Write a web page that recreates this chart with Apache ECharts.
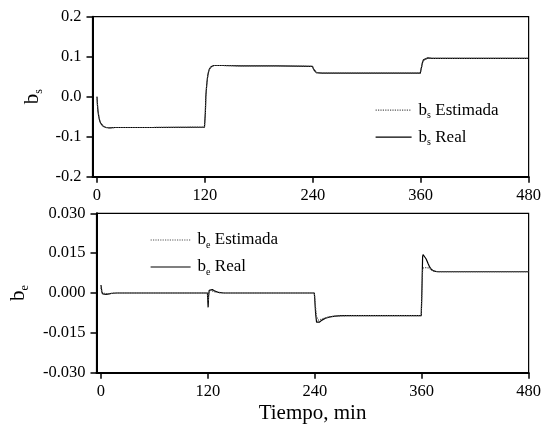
<!DOCTYPE html>
<html>
<head>
<meta charset="utf-8">
<script src="https://cdn.jsdelivr.net/npm/echarts@6/dist/echarts.min.js"></script>
<style>html,body{margin:0;padding:0;background:#fff}#c{width:544px;height:425px}</style>
</head>
<body>
<div id="c"></div>
<script>
// ---- Data ----
const xTicks = [0, 120, 240, 360, 480];

// Top panel: b_s
const tBsReal = [0, 0.5, 1, 2, 3, 4, 5, 7, 10, 14, 20, 60, 119.5, 120, 120.5, 121, 122, 123, 124, 125, 127, 130, 140, 160, 200, 239.5, 240, 241, 242, 244, 250, 300, 359.5, 360, 361, 362, 363, 365, 368, 372, 400, 480];
const bsReal  = [0, -0.02, -0.035, -0.05, -0.06, -0.066, -0.07, -0.074, -0.077, -0.078, -0.077, -0.077, -0.076, -0.076, -0.04, 0.0, 0.03, 0.05, 0.062, 0.069, 0.075, 0.078, 0.078, 0.077, 0.077, 0.076, 0.076, 0.068, 0.063, 0.060, 0.059, 0.059, 0.059, 0.059, 0.075, 0.086, 0.092, 0.096, 0.097, 0.096, 0.096, 0.096];
const tBsEst  = [0, 0.5, 1, 2, 3, 4, 5, 7, 10, 14, 20, 60, 119.5, 120, 120.5, 121, 122, 123, 124, 125, 127, 130, 140, 160, 200, 239.5, 240, 241, 242, 244, 250, 300, 359.5, 360, 361, 362, 363, 365, 368, 372, 400, 480];
const bsEst   = [0, -0.018, -0.033, -0.049, -0.059, -0.066, -0.070, -0.074, -0.077, -0.078, -0.077, -0.077, -0.076, -0.076, -0.042, -0.002, 0.028, 0.049, 0.061, 0.068, 0.075, 0.078, 0.078, 0.077, 0.077, 0.076, 0.076, 0.069, 0.064, 0.060, 0.059, 0.059, 0.059, 0.059, 0.074, 0.085, 0.091, 0.096, 0.097, 0.096, 0.096, 0.096];

// Bottom panel: b_e
const tBeReal = [0, 0.5, 1, 2, 4, 6, 9, 13, 18, 60, 119.5, 120, 120.3, 120.8, 121.5, 123, 125, 128, 132, 138, 200, 239.5, 240, 241, 242, 243, 245, 248, 252, 257, 263, 270, 300, 359.5, 360, 360.5, 361, 361.5, 363, 365, 367, 369, 371, 374, 378, 400, 480];
const beReal  = [0.003, 0.003, 0.0005, -0.0003, -0.0006, -0.0005, -0.0003, -0.0001, 0, 0, 0, 0, -0.0054, -0.001, 0.001, 0.0016, 0.0013, 0.0007, 0.0002, 0, 0, 0, 0, -0.008, -0.011, -0.0115, -0.011, -0.0102, -0.0095, -0.009, -0.0087, -0.0085, -0.0085, -0.0085, -0.0085, 0.005, 0.0135, 0.0145, 0.0142, 0.0128, 0.0112, 0.0097, 0.0088, 0.0082, 0.008, 0.008, 0.008];
const tBeEst  = [0, 0.5, 1, 3, 8, 15, 60, 119.5, 120, 120.3, 121, 123, 128, 135, 200, 239.5, 240, 241, 242, 244, 248, 252, 258, 265, 300, 359.5, 360, 360.5, 361, 362, 366, 369, 372, 376, 380, 400, 480];
const beEst   = [0.002, 0.0015, 0.0, -0.0004, -0.0003, 0, 0, 0, 0, -0.003, 0, 0.001, 0.0004, 0, 0, 0, 0, -0.006, -0.009, -0.0102, -0.0098, -0.0093, -0.0089, -0.0086, -0.0085, -0.0085, -0.0085, 0.004, 0.0085, 0.0095, 0.0096, 0.0092, 0.0085, 0.0081, 0.008, 0.008, 0.008];

const bsTicks = { min: -0.2, max: 0.2, step: 0.1 };
const beTicks = { min: -0.03, max: 0.03, step: 0.015 };

function pairs(t, v) { return t.map((x, i) => [x, v[i]]); }

const FONT = 'Liberation Serif';
const subRich = {
  b: { fontFamily: FONT, fontSize: 17, color: '#000', lineHeight: 20, verticalAlign: 'middle', padding: [0, 0, 0, 2] },
  s: { fontFamily: FONT, fontSize: 10, color: '#000', lineHeight: 6, verticalAlign: 'bottom' },
  t: { fontFamily: FONT, fontSize: 17, color: '#000', lineHeight: 20, verticalAlign: 'middle' }
};
const nameRich = {
  b: { fontFamily: FONT, fontSize: 21, color: '#000', lineHeight: 24, verticalAlign: 'middle' },
  s: { fontFamily: FONT, fontSize: 12, color: '#000', lineHeight: 6, verticalAlign: 'bottom' }
};

function xAxisCfg(idx, showName) {
  return {
    type: 'value', gridIndex: idx, min: -5, max: 480,
    axisLine: { onZero: false, lineStyle: { color: '#000', width: 2 } },
    axisTick: { customValues: xTicks, length: 6, lineStyle: { color: '#000', width: 1.5 } },
    axisLabel: { customValues: xTicks, margin: 10, fontFamily: FONT, fontSize: 16.5, color: '#000' },
    splitLine: { show: false },
    name: showName ? 'Tiempo, min' : '',
    nameLocation: 'middle', nameGap: 30,
    nameTextStyle: { fontFamily: FONT, fontSize: 21, color: '#000' }
  };
}
function yAxisCfg(idx, tk, dec, nm, gap) {
  return {
    type: 'value', gridIndex: idx, min: tk.min, max: tk.max, interval: tk.step,
    axisLine: { show: true, onZero: false, lineStyle: { color: '#000', width: 2 } },
    axisTick: { show: true, length: 6, lineStyle: { color: '#000', width: 1.5 } },
    axisLabel: { margin: 11, fontFamily: FONT, fontSize: 16.5, color: '#000',
      formatter: v => (Math.abs(v) < 1e-9 ? 0 : v).toFixed(dec) },
    splitLine: { show: false },
    name: '{b|b}{s|' + nm + '}', nameLocation: 'middle', nameRotate: 90, nameGap: gap,
    nameTextStyle: { rich: nameRich }
  };
}
const lineBase = { type: 'line', showSymbol: false, symbol: 'none', animation: false };
const legendBase = { orient: 'vertical', padding: 0, itemGap: 8.5, itemHeight: 14,
  itemStyle: { opacity: 0 }, lineStyle: { width: 1.2 }, textStyle: { rich: subRich } };

const chart = echarts.init(document.getElementById('c'), null, { renderer: 'canvas' });
chart.setOption({
  backgroundColor: '#fff',
  animation: false,
  grid: [
    { left: 92.5, right: 13.3, top: 16.7, height: 160, show: true, borderColor: '#000', borderWidth: 1.2, backgroundColor: 'transparent' },
    { left: 92.3, right: 13.3, top: 213.3, height: 159.4, show: true, borderColor: '#000', borderWidth: 1.2, backgroundColor: 'transparent' }
  ],
  xAxis: [xAxisCfg(0, false), xAxisCfg(1, true)],
  yAxis: [yAxisCfg(0, bsTicks, 1, 's', 43), yAxisCfg(1, beTicks, 3, 'e', 66)],
  legend: [
    Object.assign({}, legendBase, { left: 375, top: 101.7, itemWidth: 36,
      data: ['bs Estimada', 'bs Real'],
      formatter: n => n === 'bs Estimada' ? '{b|b}{s|s}{t| Estimada}' : '{b|b}{s|s}{t| Real}' }),
    Object.assign({}, legendBase, { left: 150, top: 231.5, itemWidth: 40,
      data: ['be Estimada', 'be Real'],
      formatter: n => n === 'be Estimada' ? '{b|b}{s|e}{t| Estimada}' : '{b|b}{s|e}{t| Real}' })
  ],
  series: [
    Object.assign({}, lineBase, { name: 'bs Real', xAxisIndex: 0, yAxisIndex: 0, data: pairs(tBsReal, bsReal),
      lineStyle: { color: '#000', width: 1.2, type: 'solid' }, itemStyle: { color: '#000' }, z: 2 }),
    Object.assign({}, lineBase, { name: 'bs Estimada', xAxisIndex: 0, yAxisIndex: 0, data: pairs(tBsEst, bsEst),
      lineStyle: { color: '#555', width: 1.2, type: [1.2, 1.2] }, itemStyle: { color: '#555' }, z: 3 }),
    Object.assign({}, lineBase, { name: 'be Real', xAxisIndex: 1, yAxisIndex: 1, data: pairs(tBeReal, beReal),
      lineStyle: { color: '#000', width: 1.2, type: 'solid' }, itemStyle: { color: '#000' }, z: 2 }),
    Object.assign({}, lineBase, { name: 'be Estimada', xAxisIndex: 1, yAxisIndex: 1, data: pairs(tBeEst, beEst),
      lineStyle: { color: '#555', width: 1.2, type: [1.2, 1.2] }, itemStyle: { color: '#555' }, z: 3 })
  ]
});
</script>
</body>
</html>
